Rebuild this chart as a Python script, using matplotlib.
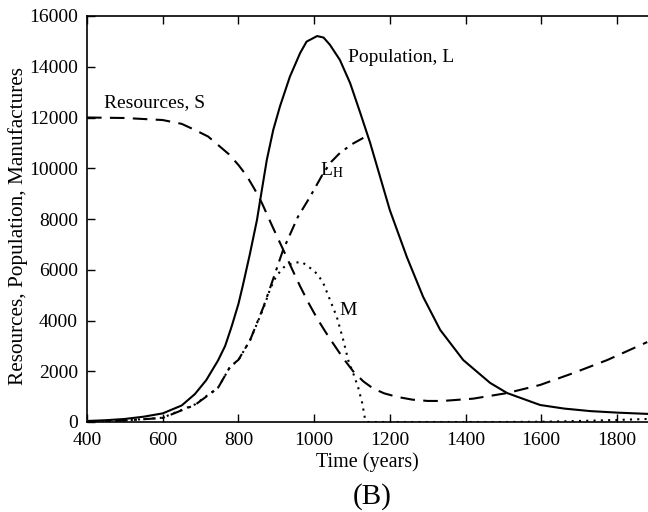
import numpy as np
import matplotlib
matplotlib.use("Agg")
import matplotlib.pyplot as plt

# Resources S (dashed)
s_years = [400, 500, 600, 650, 685, 720, 746, 775, 800, 822, 844, 862, 890, 918,
           940, 963, 985, 1008, 1030, 1050, 1075, 1103, 1130, 1156, 1185, 1219,
           1260, 1300, 1340, 1420, 1510, 1597, 1685, 1774, 1880]
s_vals = [12000, 11980, 11900, 11750, 11510, 11250, 10920, 10550, 10130, 9700,
          9140, 8630, 7700, 6800, 6080, 5350, 4700, 4080, 3550, 3100, 2550, 2000,
          1600, 1320, 1130, 990, 880, 830, 830, 920, 1140, 1460, 1930, 2440, 3150]

# Population L (solid)
l_years = [400, 450, 500, 550, 600, 650, 685, 715, 746, 765, 782, 800, 812, 830,
           849, 857, 875, 892, 910, 936, 963, 980, 1008, 1025, 1042, 1068, 1095,
           1121, 1148, 1169, 1200, 1245, 1288, 1333, 1394, 1465, 1510, 1597,
           1660, 1729, 1800, 1880]
l_vals = [40, 70, 120, 210, 340, 650, 1100, 1650, 2420, 3000, 3760, 4650, 5400,
          6600, 7960, 8700, 10330, 11510, 12450, 13610, 14540, 14990, 15210,
          15150, 14860, 14270, 13360, 12220, 11000, 9930, 8350, 6500, 4930, 3630,
          2440, 1540, 1140, 670, 530, 430, 370, 320]

# Harvested population L_H (dash-dot), ends when M collapses
lh_years = [400, 500, 600, 685, 746, 778, 800, 831, 866, 884, 918, 957, 989,
            1024, 1045, 1068, 1100, 1134]
lh_vals = [20, 60, 160, 670, 1340, 2180, 2450, 3230, 4530, 5300, 6780, 8080,
           8870, 9800, 10250, 10600, 10950, 11230]

# Manufactures M (dotted)
m_years = [400, 500, 600, 685, 746, 778, 800, 831, 866, 884, 900, 920, 945, 968,
           997, 1010, 1024, 1042, 1060, 1077, 1090, 1103, 1116, 1127, 1134, 1140,
           1300, 1500, 1600, 1700, 1800, 1880]
m_vals = [20, 60, 170, 690, 1350, 2170, 2440, 3230, 4480, 5250, 5750, 6100, 6280,
          6300, 5990, 5800, 5480, 4810, 4140, 3230, 2440, 1930, 1380, 750, 160, 0,
          0, 0, 10, 40, 80, 120]

plt.rcParams['font.family'] = ['Liberation Serif', 'DejaVu Serif']
plt.rcParams['mathtext.fontset'] = 'stix'

fig = plt.figure(figsize=(6.48, 5.12), dpi=100)
ax = fig.add_axes([87 / 648, 90 / 512, 561 / 648, 406 / 512])

lw = 1.5
ax.plot(s_years, s_vals, color='black', lw=lw, dashes=(7, 4))
ax.plot(l_years, l_vals, color='black', lw=lw)
ax.plot(lh_years, lh_vals, color='black', lw=lw, dashes=(6, 3, 1.5, 3))
ax.plot(m_years, m_vals, color='black', lw=lw, dashes=(1, 2.5))

ax.set_xlim(400, 1882)
ax.set_ylim(0, 16000)
ax.set_xticks(range(400, 1801, 200))
ax.set_yticks(range(0, 16001, 2000))
ax.spines['right'].set_visible(False)
for sp in ax.spines.values():
    sp.set_linewidth(1.2)
ax.tick_params(direction='in', length=6, width=1, labelsize=14, top=True)
ax.tick_params(axis='x', pad=7.5)
ax.tick_params(axis='y', pad=6.5)

ax.set_xlabel('Time (years)', fontsize=14.5, labelpad=2)
ax.set_ylabel('Resources, Population, Manufactures', fontsize=15.3, labelpad=0)
ax.yaxis.set_label_coords(-(87 - 28) / 561, 0.5 - 7 / 406)

ax.text(445, 12600, 'Resources, S', fontsize=14, va='center')
ax.text(1090, 14350, 'Population, L', fontsize=14, va='center')
ax.text(1016, 9930, r'L$_{\mathrm{H}}$', fontsize=14, va='center')
ax.text(1068, 4410, 'M', fontsize=14, va='center')

fig.text(372 / 648, 1 - 497 / 512, '(B)', fontsize=21, ha='center', va='center')

fig.savefig('out.png', dpi=100)
